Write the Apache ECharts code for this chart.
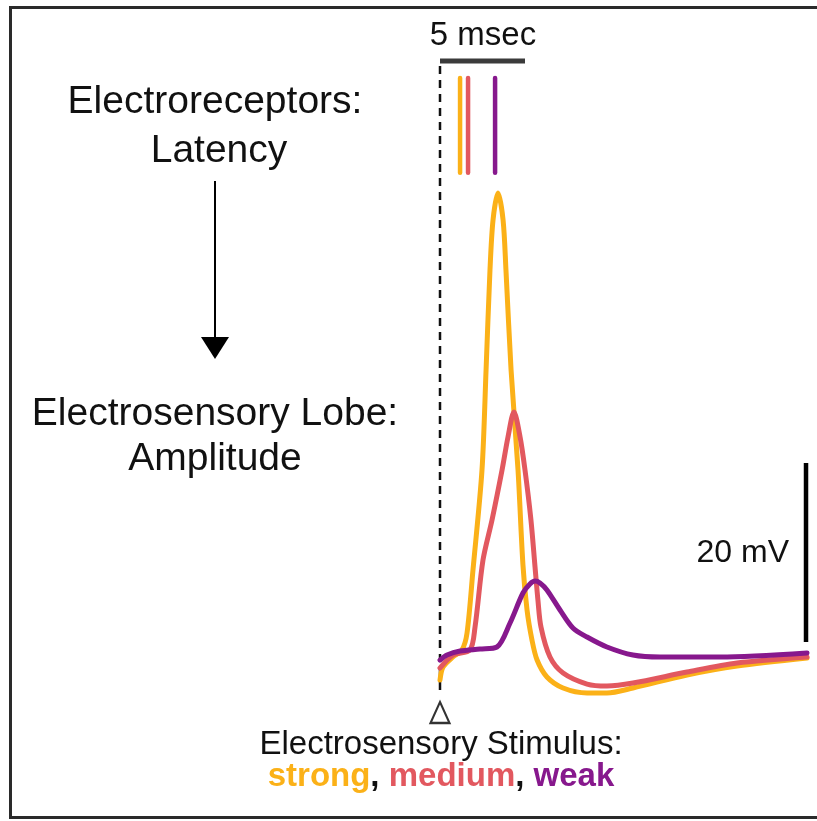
<!DOCTYPE html>
<html><head><meta charset="utf-8">
<script src="https://cdn.jsdelivr.net/npm/echarts@6/dist/echarts.min.js"></script>
<style>html,body{margin:0;padding:0;background:#fff}#c{width:817px;height:821px}</style>
</head><body><div id="c"></div>
<script>
// Time in msec after stimulus onset, voltage in mV relative to rest
const strongT = [0, 0.18, 0.76, 1.29, 1.59, 1.94, 2.47, 2.71, 2.94, 3.12, 3.41, 3.71, 3.88, 4.18, 4.59, 4.88, 5.12, 5.41, 5.71, 6.29, 7.24, 8.65, 9.82, 11.35, 14.53, 17.47, 21.59];
const strongV = [-2.57, -1.12, 0, 0.78, 2.68, 9.72, 20.89, 32.07, 43.24, 48.83, 51.84, 48.83, 43.24, 32.07, 20.89, 10.28, 5.25, 1.9, -0.34, -2.23, -3.46, -4.02, -4.02, -3.46, -2.01, -1.01, -0.11];
const mediumT = [0, 0.76, 1.76, 2.06, 2.53, 3.06, 3.65, 4.0, 4.35, 4.71, 5.0, 5.35, 5.59, 5.76, 5.94, 6.47, 7.24, 8.65, 9.82, 11.35, 14.53, 17.47, 21.59];
const mediumV = [-1.23, 0.22, 0.78, 3.35, 10.84, 15.31, 20.89, 24.58, 27.37, 24.58, 20.89, 15.31, 10.06, 6.37, 3.35, 0, -1.79, -3.02, -3.24, -2.91, -1.68, -0.67, 0];
const weakT = [0, 0.41, 1.18, 2.35, 3.35, 4.12, 4.88, 5.29, 5.59, 5.88, 6.29, 7.06, 7.82, 8.65, 9.82, 11.35, 12.94, 16.47, 21.59];
const weakV = [-0.34, 0.22, 0.67, 0.89, 1.12, 3.8, 7.15, 8.16, 8.49, 8.27, 7.49, 5.25, 3.24, 2.23, 1.12, 0.22, 0, 0, 0.45];
// Electroreceptor latency (msec) for strong, medium, weak
const latencyMs = [1.18, 1.65, 3.24];
const latencyRangeMv = [54.1, 64.7];
// Scale bars and stimulus marker
const timeBarMs = 5;
const voltBarMv = 20;
const voltBarAtMs = 21.53;
const voltBarFromMv = 1.68;
const timeBarAtMv = 66.6;
const stimulusLineMv = [-3.7, 66.6];
const stimulusMarkerMv = -6.2;
const stimulusLabels = ['strong', 'medium', 'weak'];

const COLORS = ['#FBB118', '#E2585F', '#87188D'];
const FONT = '"Liberation Sans", Arial, Helvetica, sans-serif';
const zip = (t, v) => t.map((x, i) => [x, v[i]]);

const chart = echarts.init(document.getElementById('c'));
const segment = (data, color, width, extra) => ({
  type: 'line', data: data, symbol: 'none', clip: false, silent: true,
  lineStyle: Object.assign({ color: color, width: width }, extra || {})
});

const series = [
  segment([[0, stimulusLineMv[0]], [0, stimulusLineMv[1]]], '#111', 2.5, { type: [8, 6] }),
  segment([[0, timeBarAtMv], [timeBarMs, timeBarAtMv]], '#3b3b3b', 5),
  segment([[voltBarAtMs, voltBarFromMv], [voltBarAtMs, voltBarFromMv + voltBarMv]], '#000', 4.5),
];
latencyMs.forEach((t, i) => {
  series.push(segment([[t, latencyRangeMv[0]], [t, latencyRangeMv[1]]], COLORS[i], 4.5, { cap: 'round' }));
});
[[strongT, strongV], [mediumT, mediumV], [weakT, weakV]].forEach((s, i) => {
  series.push({
    type: 'line', data: zip(s[0], s[1]), symbol: 'none', smooth: 0.3, clip: false, silent: true,
    lineStyle: { color: COLORS[i], width: 5, cap: 'round', join: 'round' }
  });
});
series.push({
  type: 'scatter', data: [[0, stimulusMarkerMv]], symbol: 'triangle', symbolSize: [19, 21], clip: false, silent: true,
  itemStyle: { color: '#fff', borderColor: '#000', borderWidth: 2.2 }
});

const txt = (text, x, y, size, align, extra) => ({
  type: 'text', x: x, y: y, silent: true,
  style: Object.assign({ text: text, fill: '#111', font: size + 'px ' + FONT, textAlign: align || 'center', textVerticalAlign: 'middle' }, extra || {})
});

chart.setOption({
  animation: false,
  backgroundColor: '#fff',
  grid: { left: 440, right: 3, top: 30.5, bottom: 74.5 },
  xAxis: { type: 'value', min: 0, max: 22, show: false },
  yAxis: { type: 'value', min: -10, max: 70, show: false },
  series: series,
  graphic: [
    { type: 'rect', shape: { x: 10.5, y: 7.5, width: 830, height: 810 }, style: { fill: 'none', stroke: '#2a2a2a', lineWidth: 3 }, silent: true },
    txt('5 msec', 483, 36, 33),
    txt('Electroreceptors:', 215, 102, 39),
    txt('Latency', 219, 151, 39),
    { type: 'line', shape: { x1: 215, y1: 181, x2: 215, y2: 340 }, style: { stroke: '#000', lineWidth: 2 }, silent: true },
    { type: 'polygon', shape: { points: [[201, 337], [229, 337], [215, 359]] }, style: { fill: '#000' }, silent: true },
    txt('Electrosensory Lobe:', 215, 414, 39),
    txt('Amplitude', 215, 459, 39),
    txt('20 mV', 789, 553, 32, 'right'),
    txt('Electrosensory Stimulus:', 441, 745, 33),
    {
      type: 'text', x: 441, y: 777, silent: true,
      style: {
        text: '{s|' + stimulusLabels[0] + '}{k|, }{m|' + stimulusLabels[1] + '}{k|, }{w|' + stimulusLabels[2] + '}',
        textAlign: 'center', textVerticalAlign: 'middle',
        font: 'bold 33px ' + FONT,
        rich: {
          s: { fill: COLORS[0], font: 'bold 33px ' + FONT },
          m: { fill: COLORS[1], font: 'bold 33px ' + FONT },
          w: { fill: COLORS[2], font: 'bold 33px ' + FONT },
          k: { fill: '#111', font: 'bold 33px ' + FONT }
        }
      }
    }
  ]
});
</script></body></html>
